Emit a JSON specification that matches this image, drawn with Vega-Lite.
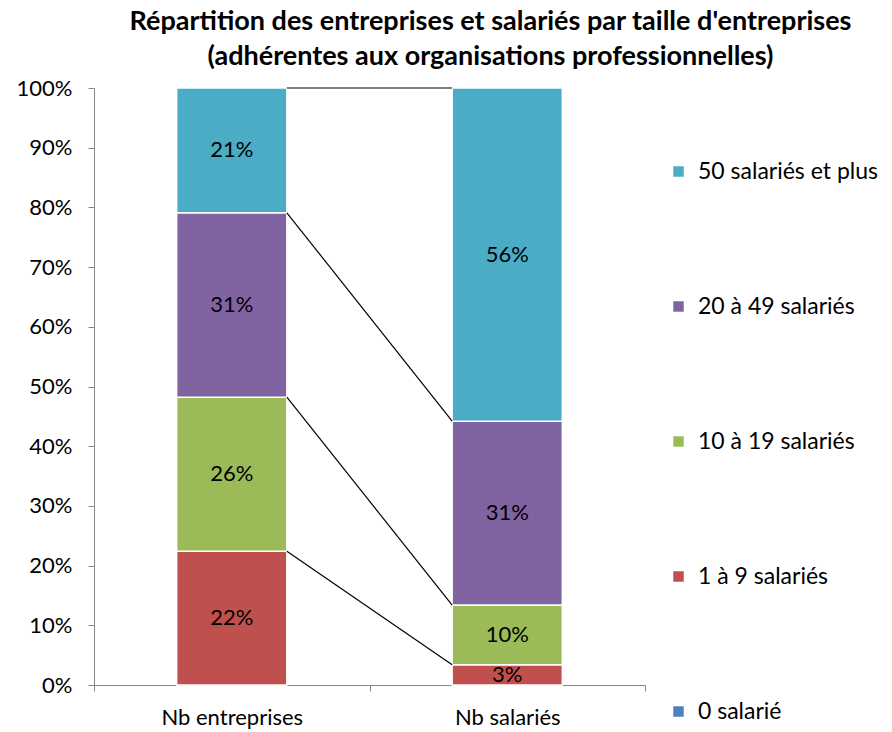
{
  "$schema": "https://vega.github.io/schema/vega-lite/v6.json",
  "width": 551,
  "height": 597,
  "autosize": {"type": "none"},
  "padding": {"left": 94, "top": 88, "right": 247, "bottom": 47},
  "background": "white",
  "config": {
    "font": "Lato",
    "view": {"stroke": null},
    "axisX": {
      "title": null, "labelAngle": 0, "labelFont": "Lato", "labelFontSize": 22,
      "labelColor": "black", "domainColor": "#868686", "tickColor": "#868686",
      "tickSize": 6, "labelPadding": 16, "tickBand": "extent"
    },
    "axisY": {
      "title": null, "grid": false, "labelFont": "Lato", "labelFontSize": 22, "labelColor": "black",
      "domainColor": "#868686", "tickColor": "#868686", "tickSize": 6, "labelPadding": 16
    }
  },
  "title": {
    "text": ["Répartition des entreprises et salariés par taille d'entreprises", "(adhérentes aux organisations professionnelles)"],
    "font": "Lato",
    "fontSize": 27,
    "fontWeight": "bold",
    "color": "black",
    "anchor": "middle",
    "frame": "group",
    "dx": 121,
    "offset": 6,
    "lineHeight": 35
  },
  "datasets": {
    "bars": [
      {"mesure": "Nb entreprises", "taille": "0 salarié", "part": 0},
      {"mesure": "Nb entreprises", "taille": "1 à 9 salariés", "part": 0.224},
      {"mesure": "Nb entreprises", "taille": "10 à 19 salariés", "part": 0.258},
      {"mesure": "Nb entreprises", "taille": "20 à 49 salariés", "part": 0.309},
      {"mesure": "Nb entreprises", "taille": "50 salariés et plus", "part": 0.209},
      {"mesure": "Nb salariés", "taille": "0 salarié", "part": 0},
      {"mesure": "Nb salariés", "taille": "1 à 9 salariés", "part": 0.034},
      {"mesure": "Nb salariés", "taille": "10 à 19 salariés", "part": 0.100},
      {"mesure": "Nb salariés", "taille": "20 à 49 salariés", "part": 0.308},
      {"mesure": "Nb salariés", "taille": "50 salariés et plus", "part": 0.558}
    ],
    "lines": [
      {"de": "Nb entreprises", "vers": "Nb salariés", "y_de": 0.224, "y_vers": 0.034},
      {"de": "Nb entreprises", "vers": "Nb salariés", "y_de": 0.482, "y_vers": 0.134},
      {"de": "Nb entreprises", "vers": "Nb salariés", "y_de": 0.791, "y_vers": 0.442},
      {"de": "Nb entreprises", "vers": "Nb salariés", "y_de": 1.0, "y_vers": 1.0}
    ]
  },
  "layer": [
    {
      "data": {"name": "bars"},
      "mark": {"type": "bar", "width": {"band": 0.4}, "stroke": "white", "strokeWidth": 1.5},
      "encoding": {
        "x": {
          "field": "mesure", "type": "nominal", "title": null,
          "scale": {"paddingInner": 0, "paddingOuter": 0}
        },
        "y": {
          "field": "part", "type": "quantitative", "stack": "zero", "title": null,
          "scale": {"domain": [0, 1], "nice": false},
          "axis": {"format": ".0%", "values": [0,0.1,0.2,0.3,0.4,0.5,0.6,0.7,0.8,0.9,1]}
        },
        "color": {
          "field": "taille", "type": "nominal",
          "scale": {
            "domain": ["0 salarié", "1 à 9 salariés", "10 à 19 salariés", "20 à 49 salariés", "50 salariés et plus"],
            "range": ["#4F81BD", "#C0504D", "#9BBB59", "#8064A2", "#4BACC6"]
          },
          "legend": {
            "title": null,
            "orient": "none",
            "legendX": 573,
            "legendY": 72,
            "values": ["50 salariés et plus", "20 à 49 salariés", "10 à 19 salariés", "1 à 9 salariés", "0 salarié"],
            "symbolType": "square",
            "symbolSize": 110,
            "symbolStrokeWidth": 0,
            "labelFont": "Lato",
            "labelFontSize": 23,
            "labelColor": "black",
            "labelLimit": 300,
            "rowPadding": 111,
            "labelOffset": 8
          }
        },
        "order": {"field": "taille", "sort": "ascending"}
      }
    },
    {
      "data": {"name": "lines"},
      "mark": {"type": "rule", "color": "black", "strokeWidth": 1.2},
      "encoding": {
        "x": {"field": "de", "type": "nominal", "bandPosition": 0.7, "title": null},
        "x2": {"field": "vers", "bandPosition": 0.3},
        "y": {"field": "y_de", "type": "quantitative", "title": null, "axis": {"format": ".0%", "values": [0,0.1,0.2,0.3,0.4,0.5,0.6,0.7,0.8,0.9,1]}},
        "y2": {"field": "y_vers"}
      }
    },
    {
      "data": {"name": "bars"},
      "transform": [{"filter": "datum.part > 0"}],
      "mark": {"type": "text", "font": "Lato", "fontSize": 22, "color": "black", "baseline": "middle"},
      "encoding": {
        "x": {"field": "mesure", "type": "nominal", "title": null},
        "y": {"field": "part", "type": "quantitative", "stack": "zero", "bandPosition": 0.5, "title": null, "axis": {"format": ".0%", "values": [0,0.1,0.2,0.3,0.4,0.5,0.6,0.7,0.8,0.9,1]}},
        "order": {"field": "taille", "sort": "ascending"},
        "text": {"field": "part", "type": "quantitative", "format": ".0%"}
      }
    }
  ]
}
